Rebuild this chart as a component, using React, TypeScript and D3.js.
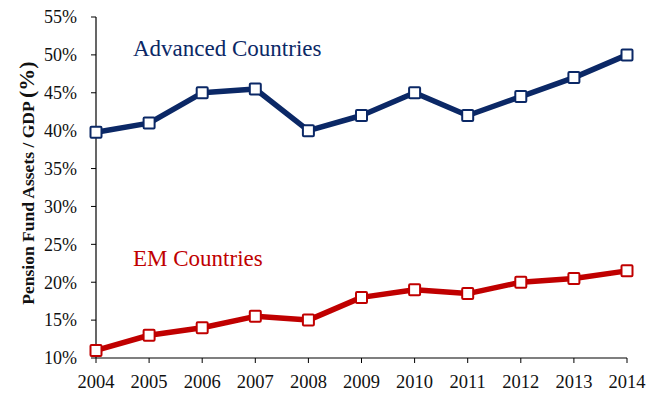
import React from "react";
import * as d3 from "d3";

const years = [2004, 2005, 2006, 2007, 2008, 2009, 2010, 2011, 2012, 2013, 2014];
const advanced = [39.8, 41, 45, 45.5, 40, 42, 45, 42, 44.5, 47, 50];
const emerging = [11, 13, 14, 15.5, 15, 18, 19, 18.5, 20, 20.5, 21.5];
const yTicks = [10, 15, 20, 25, 30, 35, 40, 45, 50, 55];

const W = 648, H = 395;
const left = 96, right = 627, top = 17, bottom = 358;
const NAVY = "#0b2866";
const RED = "#c00000";
const FONT = "'Liberation Serif', 'Times New Roman', serif";

export default function App() {
  const x = d3.scalePoint<number>().domain(years).range([left, right]);
  const y = d3.scaleLinear().domain([10, 55]).range([bottom, top]);
  const line = d3.line<number>().x((_, i) => x(years[i])!).y((d) => y(d));
  const series = [
    { data: advanced, color: NAVY },
    { data: emerging, color: RED },
  ];
  return (
    <svg width={W} height={H} style={{ position: "absolute", left: 0, top: 0, background: "#fff" }} fontFamily={FONT}>
      {/* y axis */}
      <line x1={left} x2={left} y1={top} y2={bottom} stroke="#000" strokeWidth={1.2} />
      {yTicks.map((t) => (
        <g key={t}>
          <line x1={left - 5} x2={left} y1={y(t)} y2={y(t)} stroke="#000" strokeWidth={1} />
          <text x={77} y={y(t)} dy="0.35em" textAnchor="end" fontSize={18} fill="#111">
            {t}%
          </text>
        </g>
      ))}
      {/* x axis */}
      <line x1={left} x2={right} y1={bottom} y2={bottom} stroke="#000" strokeWidth={1.2} />
      {years.map((yr) => (
        <g key={yr}>
          <line x1={x(yr)} x2={x(yr)} y1={bottom} y2={bottom + 5} stroke="#000" strokeWidth={1} />
          <text x={x(yr)} y={388} textAnchor="middle" fontSize={18.5} fill="#111">
            {yr}
          </text>
        </g>
      ))}
      <text
        transform={`translate(34, 183) rotate(-90)`}
        textAnchor="middle"
        fontSize={17.5}
        fontWeight="bold"
        fill="#111"
      >
        Pension Fund Assets / GDP <tspan fontSize={22}>(%)</tspan>
      </text>
      {series.map((s, si) => (
        <g key={si}>
          <path d={line(s.data)!} fill="none" stroke={s.color} strokeWidth={5.5} strokeLinejoin="round" />
          {s.data.map((v, i) => (
            <rect
              key={i}
              x={x(years[i])! - 5.5}
              y={y(v) - 5.5}
              width={11}
              height={11}
              fill="#fff"
              stroke={s.color}
              strokeWidth={2}
              rx={1}
            />
          ))}
        </g>
      ))}
      <text x={133} y={56} fontSize={23} fill={NAVY}>Advanced Countries</text>
      <text x={133} y={266} fontSize={23} fill={RED}>EM Countries</text>
    </svg>
  );
}
